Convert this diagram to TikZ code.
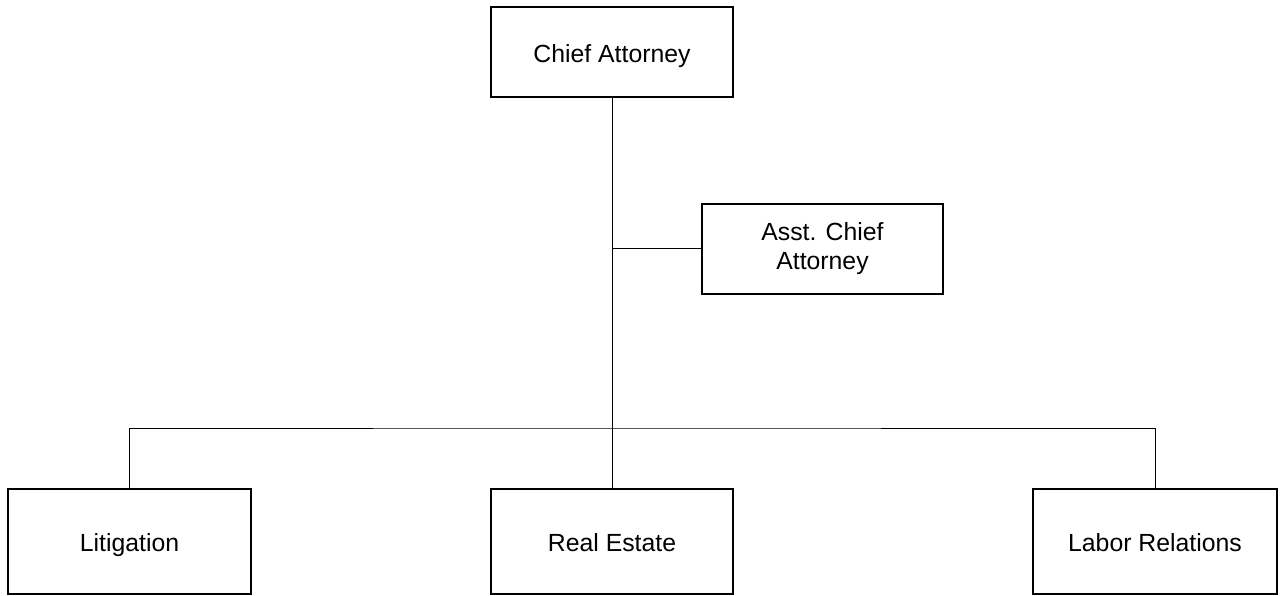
\documentclass[tikz,border=0pt]{standalone}
\usepackage{fontspec}
\setmainfont{Liberation Sans}
\begin{document}
\begin{tikzpicture}[x=0.75pt,y=-0.75pt,
  box/.style={draw=black,line width=1.5pt,fill=white,minimum width=181.5pt,minimum height=67.5pt,
    inner sep=0pt,align=center,font=\fontsize{18.6}{21.75}\selectfont},
  oneline/.style={text height=15.5pt,text depth=0pt},
  lowbox/.style={box,oneline,minimum height=78.75pt},
  link/.style={draw=black,line width=0.75pt}]
\useasboundingbox (0,0) rectangle (1282,596);
\node[box,oneline] (chief) at (612,52) {Chief Attorney};
\node[box,minimum width=180.75pt] (asst) at (822.5,249) {Asst. Chief\\Attorney};
\node[lowbox,minimum width=182.25pt] (lit) at (129.5,541.5) {Litigation};
\node[lowbox] (re) at (612,541.5) {Real Estate};
\node[lowbox,minimum width=183pt] (lab) at (1155,541.5) {Labor Relations};
\coordinate (bus) at (612,428);
\coordinate (tee) at (612,248);
\draw[link] (chief.south) -- (re.north);
\draw[link] (tee) -- (tee -| asst.west);
\draw[link] (lit.north) |- (bus) -| (lab.north);
\end{tikzpicture}
\end{document}
